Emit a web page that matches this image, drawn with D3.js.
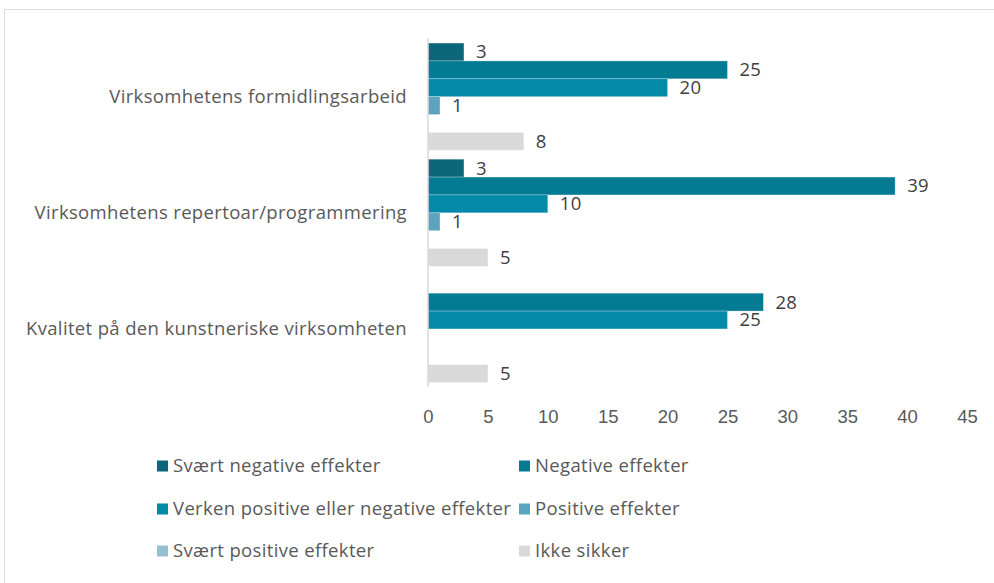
<!DOCTYPE html>
<html>
<head>
<meta charset="utf-8">
<script src="https://cdn.jsdelivr.net/npm/d3@7"></script>
<style>
  body { margin: 0; background: #fff; }
  svg { display: block; font-family: "Open Sans", "Noto Sans", sans-serif; }
</style>
</head>
<body>
<svg id="chart" width="994" height="583"></svg>
<script>
// categories top to bottom
var categories = [
  "Virksomhetens formidlingsarbeid",
  "Virksomhetens repertoar/programmering",
  "Kvalitet på den kunstneriske virksomheten"
];
var seriesNames = [
  "Svært negative effekter",
  "Negative effekter",
  "Verken positive eller negative effekter",
  "Positive effekter",
  "Svært positive effekter",
  "Ikke sikker"
];
var seriesColors = ["#0b6779", "#037b93", "#048aa9", "#5aa4bd", "#95bfd1", "#d9d9d9"];
// one array per series, values in category order (null = no bar)
var sværtNegative = [3, 3, null];
var negative = [25, 39, 28];
var verken = [20, 10, 25];
var positive = [1, 1, null];
var sværtPositive = [null, null, null];
var ikkeSikker = [8, 5, 5];
var xTicks = [0, 5, 10, 15, 20, 25, 30, 35, 40, 45];

var seriesValues = [sværtNegative, negative, verken, positive, sværtPositive, ikkeSikker];

var FS = 18.5, LS = "0.35px";
var svg = d3.select("#chart");

// outer frame
svg.append("rect")
  .attr("x", 4.5).attr("y", 9.5)
  .attr("width", 1100).attr("height", 700)
  .attr("fill", "none")
  .attr("stroke", "#d9d9d9")
  .attr("stroke-width", 1);

var plot = {left: 428, right: 967, top: 38.6, bottom: 387};

var x = d3.scaleLinear().domain([0, 45]).range([plot.left, plot.right]);

var y0 = d3.scaleBand()
  .domain(categories)
  .range([plot.top, plot.bottom]);

// gap width 50% -> bar = band / 6.5
var y1 = d3.scaleBand()
  .domain(seriesNames)
  .range([0, y0.bandwidth()])
  .paddingOuter(0.25)
  .paddingInner(0);

var rows = [];
seriesNames.forEach(function(s, si) {
  categories.forEach(function(c, ci) {
    var v = seriesValues[si][ci];
    if (v != null) rows.push({cat: c, series: s, si: si, value: v});
  });
});

svg.append("g")
  .selectAll("rect")
  .data(rows)
  .enter()
  .append("rect")
    .attr("x", x(0))
    .attr("y", function(d) { return y0(d.cat) + y1(d.series); })
    .attr("width", function(d) { return x(d.value) - x(0); })
    .attr("height", y1.bandwidth())
    .attr("fill", function(d) { return seriesColors[d.si]; })
    .attr("stroke", "rgba(255,255,255,0.35)")
    .attr("stroke-width", 0.75);

// value labels
svg.append("g")
  .selectAll("text")
  .data(rows)
  .enter()
  .append("text")
    .attr("x", function(d) { return x(d.value) + 12; })
    .attr("y", function(d) { return y0(d.cat) + y1(d.series) + y1.bandwidth() / 2 + 1.5; })
    .attr("dominant-baseline", "middle")
    .attr("font-size", FS)
    .attr("letter-spacing", LS)
    .attr("fill", "#404040")
    .text(function(d) { return d.value; });

// vertical axis line
svg.append("line")
  .attr("x1", x(0)).attr("x2", x(0))
  .attr("y1", plot.top).attr("y2", plot.bottom)
  .attr("stroke", "#d9d9d9")
  .attr("stroke-width", 1.5);

// category labels
svg.append("g")
  .selectAll("text")
  .data(categories)
  .enter()
  .append("text")
    .attr("x", 407)
    .attr("y", function(d) { return y0(d) + y0.bandwidth() / 2 + 1.5; })
    .attr("text-anchor", "end")
    .attr("dominant-baseline", "middle")
    .attr("font-size", FS)
    .attr("letter-spacing", LS)
    .attr("fill", "#595959")
    .text(function(d) { return d; });

// x axis
var xAxis = svg.append("g")
  .attr("transform", "translate(0," + 417 + ")")
  .call(d3.axisBottom(x).tickValues(xTicks).tickSize(0).tickPadding(0));
xAxis.select(".domain").remove();
xAxis.selectAll("text")
  .attr("font-size", FS)
  .attr("font-family", null)
  .attr("fill", "#595959")
  .attr("dy", "0.35em");

// legend
var legendPos = [[157, 466], [519, 466], [157, 509], [519, 509], [157, 551], [519, 551]];
var legend = svg.append("g")
  .selectAll("g")
  .data(seriesNames)
  .enter()
  .append("g")
    .attr("transform", function(d, i) { return "translate(" + legendPos[i][0] + "," + legendPos[i][1] + ")"; });
legend.append("rect")
  .attr("x", 0).attr("y", -5.5)
  .attr("width", 11).attr("height", 11)
  .attr("fill", function(d, i) { return seriesColors[i]; });
legend.append("text")
  .attr("x", 16)
  .attr("y", 1.5)
  .attr("dominant-baseline", "middle")
  .attr("font-size", FS)
  .attr("letter-spacing", LS)
  .attr("fill", "#595959")
  .text(function(d) { return d; });
</script>
</body>
</html>
